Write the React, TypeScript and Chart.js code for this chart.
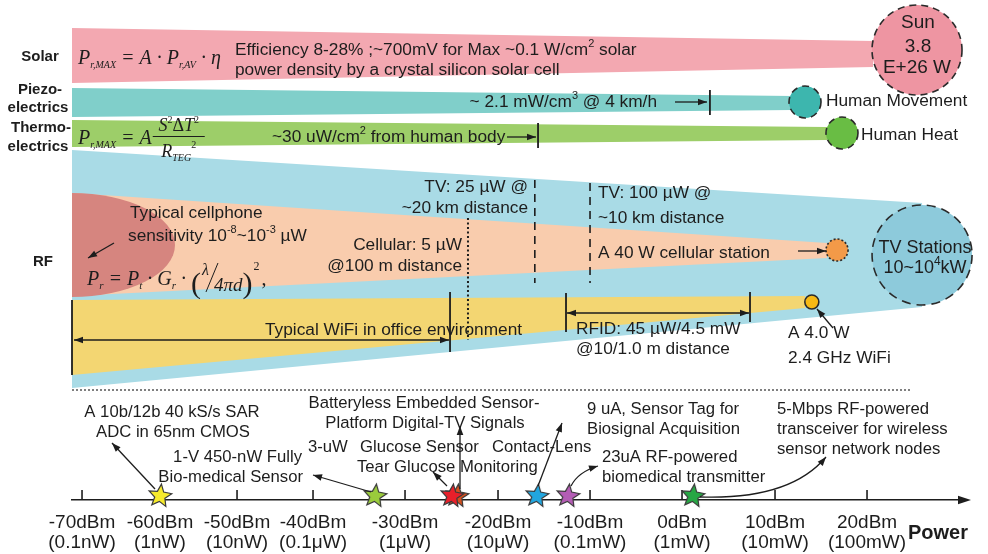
import { useEffect, useRef } from 'react';
import { Chart, LinearScale, registerables } from 'chart.js';

// ---------------- power axis (dBm) ----------------
const TICK_DBM = [-70, -60, -50, -40, -30, -20, -10, 0, 10, 20];
const TICK_POWER = ['(0.1nW)', '(1nW)', '(10nW)', '(0.1μW)', '(1μW)', '(10μW)', '(0.1mW)', '(1mW)', '(10mW)', '(100mW)'];
const AXIS_MIN = -71.3;
const AXIS_MAX = 30.9;
// the figure's axis is not evenly spaced: share of the axis length reached at each stop
const AXIS_STOP_DBM = [AXIS_MIN, -70, -60, -50, -40, -30, -20, -10, 0, 10, 20, AXIS_MAX];
const AXIS_STOP_SHARE = [0, 0.0112, 0.0983, 0.1844, 0.2693, 0.3721, 0.476, 0.5788, 0.6816, 0.7855, 0.8883, 1];

// ---------------- harvesting bands ----------------
const BAND_NAMES = ['Solar', 'Piezoelectrics', 'Thermoelectrics', 'RF (TV)', 'RF (cellular)', 'RF (WiFi)'];
const BAND_END_DBM = [20.65, 11.96, 15.65, 26.0, 15.65, 13.26];
const BAND_START_TOP = [28, 88, 120, 150, 193, 300];
const BAND_START_BOTTOM = [83, 117, 147, 388, 296, 375];
const BAND_END_TOP = [41, 96, 127, 203, 243, 296];
const BAND_END_BOTTOM = [67, 110, 140, 307, 258, 308];
const BAND_COLORS = ['#F3A8B1', '#80CFCA', '#9DCE69', '#A9DBE6', '#F9CCAD', '#F3D672'];

// cellphone sensitivity region
const BLOB_REACH_DBM = -58.05;
const BLOB_ROWS = [193, 297];

// ---------------- sources (circles) ----------------
const SOURCE_NAMES = ['Sun', 'Human Movement', 'Human Heat', 'TV Stations', 'A 40 W cellular station', 'A 4.0 W 2.4 GHz WiFi'];
const SOURCE_DBM = [25.45, 13.26, 17.28, 26.0, 16.74, 14.0];
const SOURCE_ROW = [50, 102, 133, 255, 250, 302];
const SOURCE_RADIUS = [45, 16, 16, 50, 11, 7];
const SOURCE_FILL = ['#EE95A2', '#3DB6AE', '#69BD44', '#8DCADB', '#F39A48', '#F6B915'];
const SOURCE_DASH = [[7, 5], [7, 5], [7, 5], [9, 6], [2, 2], []];

// ---------------- range markers ----------------
const MARKER_NAMES = ['Cellular 5 µW', 'TV 25 µW', 'TV 100 µW', 'WiFi office far', 'WiFi office near', 'RFID 45 µW', 'RFID 4.5 mW', 'Piezo 2.1 mW/cm3', 'Thermo 30 uW/cm2'];
const MARKER_DBM = [-23.23, -16.0, -10, -25.16, AXIS_MIN, -12.61, 7.31, 3.0, -15.65];
const MARKER_FROM = [218, 180, 183, 292, 300, 293, 292, 90, 123];
const MARKER_TO = [340, 283, 283, 352, 375, 332, 322, 115, 148];
const MARKER_STYLE = ['dot', 'dash', 'dash', 'solid', 'solid', 'solid', 'solid', 'solid', 'solid'];

const SEPARATOR_DBM = [AXIS_MIN, 24.7];
const SEPARATOR_ROW = 390;

// ---------------- devices (stars) ----------------
const DEVICE_NAMES = [
  'A 10b/12b 40 kS/s SAR ADC in 65nm CMOS',
  '1-V 450-nW Fully Bio-medical Sensor',
  'Batteryless Embedded Sensor-Platform Digital-TV Signals',
  'Contact-Lens Tear Glucose Monitoring',
  '9 uA, Sensor Tag for Biosignal Acquisition',
  '23uA RF-powered biomedical transmitter',
  '5-Mbps RF-powered transceiver',
];
const DEVICE_DBM = [-60, -33.26, -24.41, -24.95, -15.76, -12.39, 1.18];
const DEVICE_COLORS = ['#F6EA2C', '#9ACB3C', '#D4501E', '#E8202A', '#22A6DF', '#B45DB5', '#27A744'];
const STAR_ROW = 496;
const TICK_ROW = 495;

const SANS = "'Liberation Sans', Arial, Helvetica, sans-serif";
const SERIF = "'Liberation Serif', 'Times New Roman', serif";
const INK = '#1d1d1d';

function shareOf(v: number) {
  const a = AXIS_STOP_DBM, s = AXIS_STOP_SHARE;
  let i = 0;
  while (i < a.length - 2 && v > a[i + 1]) i++;
  return s[i] + ((v - a[i]) / (a[i + 1] - a[i])) * (s[i + 1] - s[i]);
}
function valueOf(f: number) {
  const a = AXIS_STOP_DBM, s = AXIS_STOP_SHARE;
  let i = 0;
  while (i < s.length - 2 && f > s[i + 1]) i++;
  return a[i] + ((f - s[i]) / (s[i + 1] - s[i])) * (a[i + 1] - a[i]);
}

class WarpScale extends LinearScale {
  static id = 'warp';
  static defaults = LinearScale.defaults;
  getPixelForValue(value: number) {
    if (value === null || value === undefined || isNaN(value)) return NaN;
    return this.getPixelForDecimal(shareOf(value));
  }
  getValueForPixel(pixel: number) {
    return valueOf(this.getDecimalForPixel(pixel));
  }
}

Chart.register(...registerables);
Chart.register(WarpScale as any);

type Run = { t: string; size?: number; dy?: number; italic?: boolean; bold?: boolean; family?: string };

function runFont(r: Run, base: number, family: string) {
  return `${r.italic ? 'italic ' : ''}${r.bold ? 'bold ' : ''}${r.size ?? base}px ${r.family ?? family}`;
}
function rich(ctx: CanvasRenderingContext2D, x: number, y: number, runs: (Run | string)[], align = 'left', base = 17.3, family = SANS) {
  const rs: Run[] = runs.map((r) => (typeof r === 'string' ? { t: r } : r));
  let w = 0;
  for (const r of rs) { ctx.font = runFont(r, base, family); w += ctx.measureText(r.t).width; }
  let cx = align === 'left' ? x : align === 'center' ? x - w / 2 : x - w;
  for (const r of rs) {
    ctx.font = runFont(r, base, family);
    ctx.fillText(r.t, cx, y + (r.dy ?? 0));
    cx += ctx.measureText(r.t).width;
  }
  return cx;
}
const sup = (t: string, size = 11): Run => ({ t, size, dy: -6 });

function head(ctx: CanvasRenderingContext2D, x: number, y: number, ang: number, len = 9, half = 3.3) {
  const c = Math.cos(ang), s = Math.sin(ang);
  ctx.beginPath();
  ctx.moveTo(x, y);
  ctx.lineTo(x - len * c + half * s, y - len * s - half * c);
  ctx.lineTo(x - len * c - half * s, y - len * s + half * c);
  ctx.closePath();
  ctx.fill();
}
function arrow(ctx: CanvasRenderingContext2D, x1: number, y1: number, x2: number, y2: number, both = false) {
  ctx.beginPath(); ctx.moveTo(x1, y1); ctx.lineTo(x2, y2); ctx.stroke();
  const a = Math.atan2(y2 - y1, x2 - x1);
  head(ctx, x2, y2, a);
  if (both) head(ctx, x1, y1, a + Math.PI);
}
function curveArrow(ctx: CanvasRenderingContext2D, x1: number, y1: number, cx: number, cy: number, x2: number, y2: number) {
  ctx.beginPath(); ctx.moveTo(x1, y1); ctx.quadraticCurveTo(cx, cy, x2, y2); ctx.stroke();
  head(ctx, x2, y2, Math.atan2(y2 - cy, x2 - cx));
}

function starImage(fill: string, r = 12) {
  const c = document.createElement('canvas');
  const s = r * 2 + 4;
  c.width = s; c.height = s;
  const g = c.getContext('2d')!;
  g.beginPath();
  for (let i = 0; i < 10; i++) {
    const rr = i % 2 === 0 ? r : r * 0.45;
    const a = -Math.PI / 2 + (i * Math.PI) / 5 + 0.12;
    g.lineTo(s / 2 + rr * Math.cos(a), s / 2 + rr * Math.sin(a));
  }
  g.closePath();
  g.fillStyle = fill; g.fill();
  g.lineWidth = 1.2; g.strokeStyle = '#3b3b3b'; g.stroke();
  return c;
}

function drawBlob(chart: any) {
  const { ctx, scales } = chart;
  const x = scales.x, y = scales.y;
  const cx = x.getPixelForValue(AXIS_MIN);
  const top = y.getPixelForValue(BLOB_ROWS[0]);
  const bottom = y.getPixelForValue(BLOB_ROWS[1]);
  const rx = x.getPixelForValue(BLOB_REACH_DBM) - cx;
  ctx.save();
  ctx.beginPath();
  ctx.ellipse(cx, (top + bottom) / 2, rx, (bottom - top) / 2, 0, -Math.PI / 2, Math.PI / 2);
  ctx.closePath();
  ctx.fillStyle = '#D6857F';
  ctx.fill();
  ctx.restore();
}

function drawNotes(chart: any) {
  const ctx: CanvasRenderingContext2D = chart.ctx;
  const ax = chart.scales.x;
  ctx.save();
  ctx.fillStyle = INK; ctx.strokeStyle = INK; ctx.lineWidth = 1.3;
  ctx.textAlign = 'left'; ctx.textBaseline = 'middle';

  // axis arrow head
  const axisY = chart.chartArea.bottom;
  head(ctx, ax.right + 4, axisY, 0, 13, 4.2);

  // row labels
  const L = (t: string, x: number, y: number) => rich(ctx, x, y, [{ t, bold: true }], 'center', 15, SANS);
  L('Solar', 40, 57); L('Piezo-', 40, 90); L('electrics', 38, 108);
  L('Thermo-', 41, 128); L('electrics', 38, 147); L('RF', 43, 262);

  // Solar
  rich(ctx, 235, 50, ['Efficiency 8-28% ;~700mV for Max ~0.1 W/cm', sup('2'), ' solar']);
  rich(ctx, 235, 70, ['power density by a crystal silicon solar cell']);
  rich(ctx, 918, 23, ['Sun'], 'center', 19);
  rich(ctx, 918, 47, ['3.8'], 'center', 19);
  rich(ctx, 917, 68, ['E+26 W'], 'center', 19);

  // Piezo / thermo
  rich(ctx, 657, 102, ['~ 2.1 mW/cm', sup('3'), ' @ 4 km/h'], 'right');
  arrow(ctx, 675, 102, 707, 102);
  rich(ctx, 826, 101, ['Human Movement']);
  rich(ctx, 272, 137, ['~30 uW/cm', sup('2'), ' from human body']);
  arrow(ctx, 507, 137, 536, 137);
  rich(ctx, 861, 135, ['Human Heat']);

  // RF
  rich(ctx, 528, 187, ['TV: 25 µW @'], 'right');
  rich(ctx, 528, 208, ['~20 km distance'], 'right');
  rich(ctx, 598, 193, ['TV: 100 µW @']);
  rich(ctx, 598, 218, ['~10 km distance']);
  rich(ctx, 130, 213, ['Typical cellphone']);
  rich(ctx, 128, 236, ['sensitivity 10', sup('-8'), '~10', sup('-3'), ' µW']);
  arrow(ctx, 114, 243, 88, 258);
  rich(ctx, 462, 245, ['Cellular: 5 µW'], 'right');
  rich(ctx, 462, 266, ['@100 m distance'], 'right');
  rich(ctx, 598, 253, ['A 40 W cellular station']);
  arrow(ctx, 798, 251, 826, 251);
  rich(ctx, 925, 248, ['TV Stations'], 'center', 18);
  rich(ctx, 925, 268, ['10~10', sup('4', 12), 'kW'], 'center', 18);
  rich(ctx, 265, 330, ['Typical WiFi in office environment']);
  arrow(ctx, 74, 340, 449, 340, true);
  rich(ctx, 576, 329, ['RFID: 45 µW/4.5 mW']);
  rich(ctx, 576, 349, ['@10/1.0 m distance']);
  arrow(ctx, 567, 313, 749, 313, true);
  rich(ctx, 788, 333, ['A 4.0 W']);
  rich(ctx, 788, 358, ['2.4 GHz WiFi']);
  arrow(ctx, 833, 328, 817, 309);

  // formulas
  ctx.textBaseline = 'alphabetic';
  const I = (t: string, size?: number, dy?: number): Run => ({ t, italic: true, size, dy });
  rich(ctx, 78, 64, [I('P'), I('r,MAX', 10, 4), I(' = A · P'), I('r,AV', 10, 4), I(' · η')], 'left', 20, SERIF);
  const tx = rich(ctx, 78, 144, [I('P'), I('r,MAX', 10, 4), I(' = A')], 'left', 20, SERIF);
  const fcx = tx + 27;
  rich(ctx, fcx, 131, [I('S'), { t: '2', size: 10, dy: -8 }, { t: 'Δ' }, I('T'), { t: '2', size: 10, dy: -8 }], 'center', 18, SERIF);
  ctx.beginPath(); ctx.moveTo(fcx - 26, 136.5); ctx.lineTo(fcx + 26, 136.5); ctx.lineWidth = 1; ctx.stroke();
  rich(ctx, fcx, 157, [I('R'), I('TEG', 10, 4), { t: '2', size: 10, dy: -9 }], 'center', 18, SERIF);
  let rx = rich(ctx, 87, 285, [I('P'), I('r', 11, 4), I(' = P'), I('t', 11, 4), I(' · G'), I('r', 11, 4), I(' · ')], 'left', 20, SERIF);
  ctx.font = `30px ${SERIF}`; ctx.fillText('(', rx, 293); rx += ctx.measureText('(').width;
  ctx.font = `italic 16px ${SERIF}`; ctx.fillText('λ', rx + 1, 275);
  ctx.beginPath(); ctx.moveTo(rx + 5, 292); ctx.lineTo(rx + 17, 263); ctx.lineWidth = 1; ctx.stroke();
  ctx.font = `italic 19px ${SERIF}`; ctx.fillText('4πd', rx + 13, 291); rx += 13 + ctx.measureText('4πd').width;
  ctx.font = `30px ${SERIF}`; ctx.fillText(')', rx, 293); rx += ctx.measureText(')').width;
  ctx.font = `12px ${SERIF}`; ctx.fillText('2', rx + 1, 270); rx += 9;
  ctx.font = `20px ${SERIF}`; ctx.fillText(',', rx, 285);
  ctx.textBaseline = 'middle';
  ctx.lineWidth = 1.3;

  // devices
  const B = 16.7;
  rich(ctx, 172, 412, ['A 10b/12b 40 kS/s SAR'], 'center', B);
  rich(ctx, 173, 432, ['ADC in 65nm CMOS'], 'center', B);
  arrow(ctx, 155, 489, 112, 443);
  rich(ctx, 424, 403, ['Batteryless Embedded Sensor-'], 'center', B);
  rich(ctx, 425, 423, ['Platform Digital-TV Signals'], 'center', B);
  rich(ctx, 302, 457, ['1-V 450-nW Fully'], 'right', B);
  rich(ctx, 303, 477, ['Bio-medical Sensor'], 'right', B);
  arrow(ctx, 371, 492, 313, 475);
  rich(ctx, 308, 447, ['3-uW'], 'left', B);
  rich(ctx, 360, 447, ['Glucose Sensor'], 'left', B);
  rich(ctx, 357, 467, ['Tear Glucose Monitoring'], 'left', B);
  rich(ctx, 492, 447, ['Contact-Lens'], 'left', B);
  arrow(ctx, 447, 486, 433, 472);
  arrow(ctx, 460, 489, 460, 426);
  arrow(ctx, 538, 486, 562, 423);
  rich(ctx, 587, 409, ['9 uA, Sensor Tag for'], 'left', B);
  rich(ctx, 587, 429, ['Biosignal Acquisition'], 'left', B);
  curveArrow(ctx, 571, 486, 578, 472, 598, 466);
  rich(ctx, 602, 457, ['23uA RF-powered'], 'left', B);
  rich(ctx, 602, 477, ['biomedical transmitter'], 'left', B);
  rich(ctx, 777, 409, ['5-Mbps RF-powered'], 'left', B);
  rich(ctx, 777, 429, ['transceiver for wireless'], 'left', B);
  rich(ctx, 777, 449, ['sensor network nodes'], 'left', B);
  curveArrow(ctx, 700, 497, 790, 500, 826, 457);

  rich(ctx, 908, 533, [{ t: 'Power', bold: true }], 'left', 20);
  ctx.restore();
}

export default function App() {
  const ref = useRef<HTMLCanvasElement>(null);
  useEffect(() => {
    document.body.style.margin = '0';
    const canvas = ref.current!;
    const stars = DEVICE_COLORS.map((c) => starImage(c));

    const bandSets = BAND_NAMES.map((name, i) => ({
      type: 'line',
      label: name,
      data: [
        { x: AXIS_MIN, y: BAND_START_TOP[i] },
        { x: BAND_END_DBM[i], y: BAND_END_TOP[i] },
        { x: BAND_END_DBM[i], y: BAND_END_BOTTOM[i] },
        { x: AXIS_MIN, y: BAND_START_BOTTOM[i] },
      ],
      fill: 'shape',
      backgroundColor: BAND_COLORS[i],
      borderWidth: 0,
      pointRadius: 0,
      tension: 0,
      order: name === 'RF (TV)' ? 30 : 20,
      clip: false,
    }));

    const markerSets = MARKER_NAMES.map((name, i) => ({
      type: 'line',
      label: name,
      data: [{ x: MARKER_DBM[i], y: MARKER_FROM[i] }, { x: MARKER_DBM[i], y: MARKER_TO[i] }],
      borderColor: INK,
      borderWidth: MARKER_STYLE[i] === 'dot' ? 2 : MARKER_STYLE[i] === 'dash' ? 1.6 : 1.8,
      borderDash: MARKER_STYLE[i] === 'dot' ? [2, 2.5] : MARKER_STYLE[i] === 'dash' ? [8, 6] : [],
      pointRadius: 0,
      fill: false,
      order: 10,
      clip: false,
    }));

    const separatorSet = {
      type: 'line',
      label: 'separator',
      data: SEPARATOR_DBM.map((x) => ({ x, y: SEPARATOR_ROW })),
      borderColor: '#555',
      borderWidth: 1.6,
      borderDash: [2, 2],
      pointRadius: 0,
      fill: false,
      order: 10,
      clip: false,
    };

    const sourceSets = SOURCE_NAMES.map((name, i) => ({
      type: 'scatter',
      label: name,
      data: [{ x: SOURCE_DBM[i], y: SOURCE_ROW[i] }],
      pointRadius: SOURCE_RADIUS[i],
      pointBackgroundColor: SOURCE_FILL[i],
      pointBorderColor: '#2a2a2a',
      pointBorderWidth: 1.6,
      dash: SOURCE_DASH[i],
      order: 5,
      clip: false,
    }));

    const tickSet = {
      type: 'scatter',
      label: 'ticks',
      data: TICK_DBM.map((x) => ({ x, y: TICK_ROW })),
      pointStyle: 'line',
      pointRotation: 90,
      pointRadius: 5,
      pointBorderColor: INK,
      pointBorderWidth: 1.6,
      order: 3,
      clip: false,
    };

    const starSet = {
      type: 'scatter',
      label: 'devices',
      data: DEVICE_DBM.map((x) => ({ x, y: STAR_ROW })),
      pointStyle: stars,
      pointRadius: 12,
      order: 1,
      clip: false,
    };

    const plugin = {
      id: 'notes',
      beforeDatasetDraw(chart: any, args: any) {
        const ds = chart.data.datasets[args.index];
        if (ds.dash) { chart.ctx.save(); chart.ctx.setLineDash(ds.dash); }
      },
      afterDatasetDraw(chart: any, args: any) {
        const ds = chart.data.datasets[args.index];
        if (ds.dash) chart.ctx.restore();
        if (ds.label === 'RF (cellular)') drawBlob(chart);
      },
      afterDraw(chart: any) { drawNotes(chart); },
    };

    const chart = new Chart(canvas, {
      type: 'line',
      data: { datasets: [...bandSets, ...markerSets, separatorSet, ...sourceSets, tickSet, starSet] as any },
      options: {
        responsive: false,
        devicePixelRatio: 1,
        animation: false,
        events: [],
        layout: { autoPadding: false, padding: { left: 72, right: 21, top: 0, bottom: -12 } },
        plugins: { legend: { display: false }, tooltip: { enabled: false } },
        scales: {
          x: {
            type: 'warp' as any,
            min: AXIS_MIN,
            max: AXIS_MAX,
            afterBuildTicks: (s: any) => { s.ticks = TICK_DBM.map((v) => ({ value: v })); },
            grid: { display: false, drawTicks: false },
            border: { display: true, color: INK, width: 1.6 },
            ticks: {
              autoSkip: false,
              maxRotation: 0,
              minRotation: 0,
              padding: 13,
              color: INK,
              font: { family: SANS, size: 19, lineHeight: 20 / 19 },
              callback: (v: any, i: number) => [`${v}dBm`, TICK_POWER[i]],
            },
          },
          y: { type: 'linear', display: false, min: 0, max: 500, reverse: true },
        },
      } as any,
      plugins: [plugin],
    });
    return () => chart.destroy();
  }, []);
  return (
    <div style={{ position: 'fixed', left: 0, top: 0, width: 988, height: 554, background: '#fff' }}>
      <canvas ref={ref} width={988} height={554} style={{ display: 'block' }} />
    </div>
  );
}
